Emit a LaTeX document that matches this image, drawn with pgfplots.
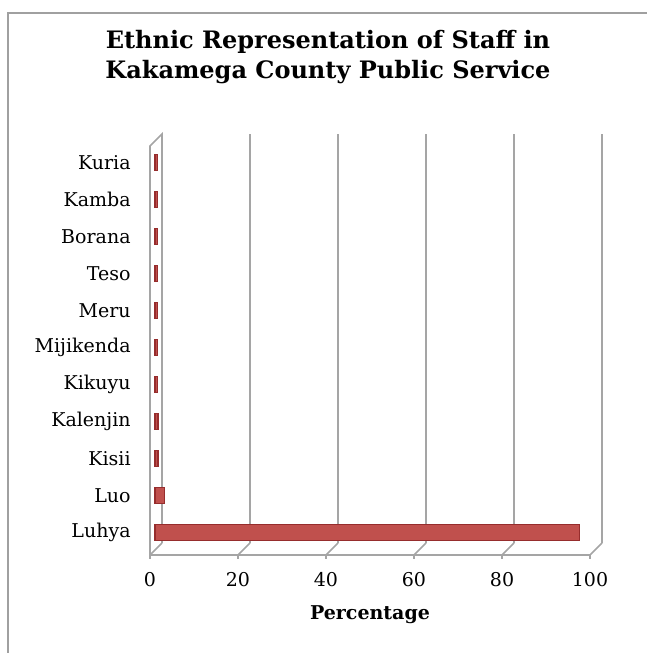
\documentclass[border=0pt]{standalone}
\usepackage{pgfplots}
\pgfplotsset{compat=1.18}
\usepackage{fontspec}
\setmainfont{DejaVu Serif}
\definecolor{barred}{RGB}{192,80,77}
\definecolor{bardark}{RGB}{150,45,45}
\definecolor{gridc}{RGB}{165,165,165}
\definecolor{framec}{RGB}{160,160,160}
\begin{document}
\begin{tikzpicture}
\useasboundingbox (0,0) rectangle (323.5pt,326.5pt);
% outer frame (only top and left visible)
\draw[framec, line width=0.8pt] (4pt,0pt) -- (4pt,320pt) -- (323.5pt,320pt);
% title
\node[font=\fontsize{12}{14}\selectfont\bfseries] at (164pt,305.5pt) {Ethnic Representation of Staff in};
\node[font=\fontsize{12}{14}\selectfont\bfseries] at (164pt,290.5pt) {Kakamega County Public Service};
\begin{axis}[
  at={(75pt,49pt)}, anchor=south west,
  scale only axis,
  width=220pt, height=204.5pt,
  xmin=0, xmax=100, ymin=-0.6, ymax=10.45,
  xbar, bar width=8pt,
  axis line style={draw=none},
  major tick length=0pt,
  xtick={0,20,40,60,80,100},
  ytick={0,...,10},
  yticklabels={Luhya,Luo,Kisii,Kalenjin,Kikuyu,Mijikenda,Meru,Teso,Borana,Kamba,Kuria},
  yticklabel style={anchor=east, inner sep=0pt, xshift=-9.5pt, font=\fontsize{9.5}{11}\selectfont},
  xticklabel style={anchor=center, inner sep=0pt, yshift=-12.5pt, font=\fontsize{9.5}{11}\selectfont},
  /pgf/number format/assume math mode=true,
  xlabel={\bfseries Percentage},
  xlabel style={at={(axis description cs:0.5,0)}, anchor=center, yshift=-30pt, font=\fontsize{9.5}{11}\selectfont},
  clip=false,
]
% back-wall gridlines
\pgfplotsinvokeforeach{20,40,60,80,100}{
  \draw[gridc, line width=1.1pt] ([xshift=6pt,yshift=6pt]axis cs:#1,-0.6) -- ([xshift=6pt,yshift=6pt]axis cs:#1,10.45);
}
% floor diagonals and front ticks
\pgfplotsinvokeforeach{0,20,40,60,80,100}{
  \draw[gridc, line width=0.8pt] (axis cs:#1,-0.6) -- ([xshift=6pt,yshift=6pt]axis cs:#1,-0.6);
  \draw[gridc, line width=0.8pt] (axis cs:#1,-0.6) -- ([yshift=-2pt]axis cs:#1,-0.6);
}
% floor front line
\draw[gridc, line width=0.8pt] (axis cs:0,-0.6) -- (axis cs:100,-0.6);
% left wall
\draw[gridc, line width=0.8pt] (axis cs:0,-0.6) -- (axis cs:0,10.45) -- ([xshift=6pt,yshift=6pt]axis cs:0,10.45) -- ([xshift=6pt,yshift=6pt]axis cs:0,-0.6);
\addplot[fill=barred, draw=bardark, line width=0.6pt, xshift=2.5pt] coordinates {
  (96.5,0) (2.2,1) (0.7,2) (0.7,3) (0.6,4) (0.6,5) (0.6,6) (0.6,7) (0.6,8) (0.6,9) (0.6,10)
};
\end{axis}
\end{tikzpicture}
\end{document}
